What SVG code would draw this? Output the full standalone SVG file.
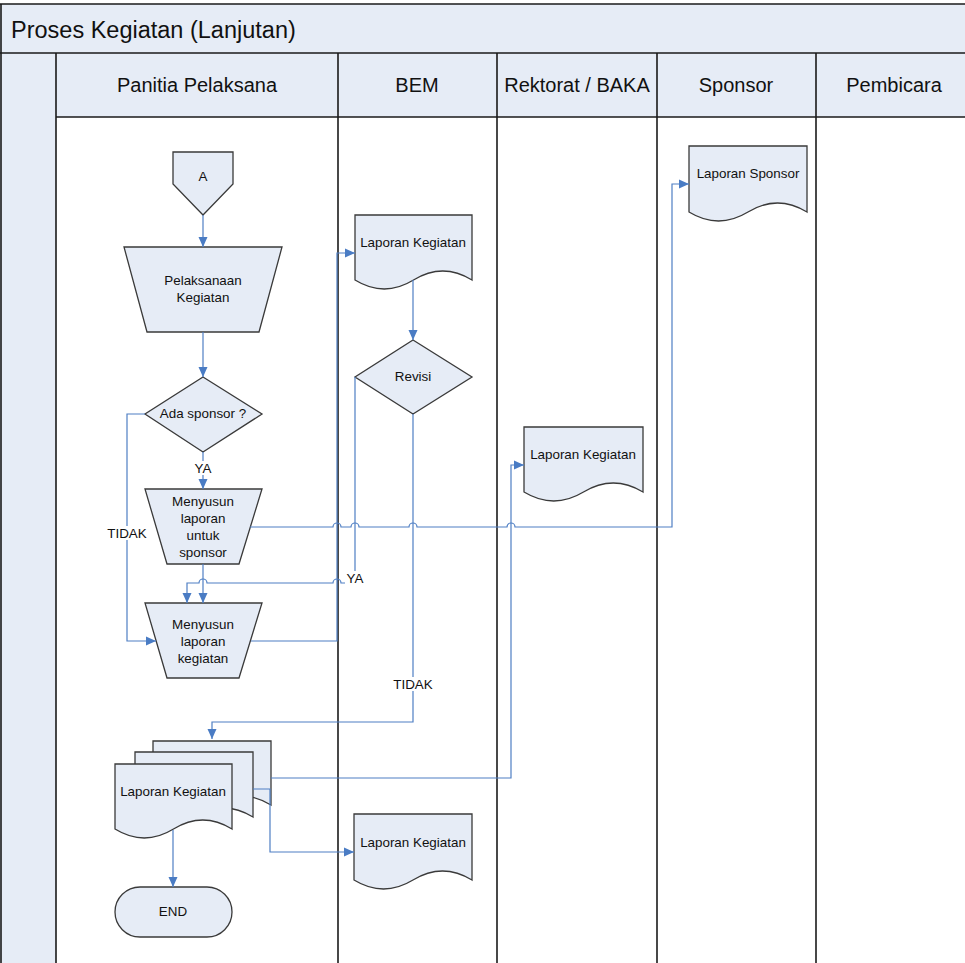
<svg xmlns="http://www.w3.org/2000/svg" width="965" height="963" viewBox="0 0 965 963">
  <style>
    .band { fill: #e6ecf6; stroke: none; }
    .lane { stroke: #1a1a1a; stroke-width: 1.6; fill: none; }
    .shape { fill: #e6ecf6; stroke: #3a3a3a; stroke-width: 1.3; }
    .conn { fill: none; stroke: #4f7fc4; stroke-width: 1.2; }
    .arrow { marker-end: url(#ah); }
    text { font-family: "Liberation Sans", Arial, sans-serif; fill: #111; }
    .title { font-size: 23.5px; }
    .head { font-size: 20px; text-anchor: middle; dominant-baseline: central; }
    .lbl { font-size: 13.4px; text-anchor: middle; dominant-baseline: central; }
    .bg { fill: #ffffff; stroke: none; }
  </style>
  <defs>
    <marker id="ah" markerWidth="10" markerHeight="10" refX="10" refY="5" orient="auto" markerUnits="userSpaceOnUse">
      <path d="M0,0.5 L10,5 L0,9.5 Z" fill="#4a7cc4"/>
    </marker>
  </defs>

  <!-- pool background -->
  <rect x="0" y="0" width="965" height="963" fill="#ffffff"/>
  <rect class="band" x="0" y="4" width="965" height="49"/>
  <rect class="band" x="0" y="53" width="56" height="910"/>
  <rect class="band" x="56" y="53" width="909" height="64"/>

  <!-- frame and lane separators -->
  <g id="lanes">
    <line class="lane" x1="0" y1="4" x2="965" y2="4"/>
    <line class="lane" x1="1" y1="4" x2="1" y2="963"/>
    <line class="lane" x1="0" y1="53" x2="965" y2="53"/>
    <line class="lane" x1="56" y1="117" x2="965" y2="117"/>
    <line class="lane" x1="56" y1="53" x2="56" y2="963"/>
    <line class="lane" x1="338" y1="53" x2="338" y2="963"/>
    <line class="lane" x1="497" y1="53" x2="497" y2="963"/>
    <line class="lane" x1="657" y1="53" x2="657" y2="963"/>
    <line class="lane" x1="816" y1="53" x2="816" y2="963"/>
  </g>

  <g id="headers">
    <text class="title" x="11" y="38">Proses Kegiatan (Lanjutan)</text>
    <text class="head" x="197" y="85">Panitia Pelaksana</text>
    <text class="head" x="417" y="85">BEM</text>
    <text class="head" x="577" y="85">Rektorat / BAKA</text>
    <text class="head" x="736" y="85">Sponsor</text>
    <text class="head" x="894" y="85">Pembicara</text>
  </g>

  <!-- nodes -->
  <g id="offpage-a">
    <path class="shape" d="M173,152 H233 V184 L203,215 L173,184 Z"/>
    <text class="lbl" x="203" y="176">A</text>
  </g>

  <g id="pelaksanaan">
    <path class="shape" d="M124,247 H282 L259,332 H147 Z"/>
    <text class="lbl" x="203" y="280">Pelaksanaan</text>
    <text class="lbl" x="203" y="297">Kegiatan</text>
  </g>

  <g id="ada-sponsor">
    <path class="shape" d="M203,377 L262,414 L203,452 L145,414 Z"/>
    <text class="lbl" x="203" y="413">Ada sponsor ?</text>
  </g>

  <g id="susun-sponsor">
    <path class="shape" d="M145,489 H262 L239,564 H167 Z"/>
    <text class="lbl" x="203" y="501">Menyusun</text>
    <text class="lbl" x="203" y="518">laporan</text>
    <text class="lbl" x="203" y="535">untuk</text>
    <text class="lbl" x="203" y="552">sponsor</text>
  </g>

  <g id="susun-kegiatan">
    <path class="shape" d="M145,603 H262 L239,678 H167 Z"/>
    <text class="lbl" x="203" y="624">Menyusun</text>
    <text class="lbl" x="203" y="641">laporan</text>
    <text class="lbl" x="203" y="658">kegiatan</text>
  </g>

  <g id="laporan-stack">
    <path class="shape" d="M153,741 H271 V805 Q241.5,787 212,805 Q182.5,823 153,805 Z"/>
    <path class="shape" d="M135,752 H253 V817 Q223.5,799 194,817 Q164.5,835 135,817 Z"/>
    <path class="shape" d="M115,764 H232 V829 Q202.75,811 173.5,829 Q144.25,847 115,829 Z"/>
    <text class="lbl" x="173" y="791">Laporan Kegiatan</text>
  </g>

  <g id="end">
    <rect class="shape" x="115" y="887" width="117" height="50" rx="25" ry="25"/>
    <text class="lbl" x="173" y="911">END</text>
  </g>

  <g id="laporan-bem">
    <path class="shape" d="M355,215 H472 V280 Q442.75,262 413.5,280 Q384.25,298 355,280 Z"/>
    <text class="lbl" x="413" y="242">Laporan Kegiatan</text>
  </g>

  <g id="revisi">
    <path class="shape" d="M413,340 L472,377 L413,414 L355,377 Z"/>
    <text class="lbl" x="413" y="376">Revisi</text>
  </g>

  <g id="laporan-bem-2">
    <path class="shape" d="M354,814 H472 V880 Q442.5,862 413,880 Q383.5,898 354,880 Z"/>
    <text class="lbl" x="413" y="842">Laporan Kegiatan</text>
  </g>

  <g id="laporan-rektorat">
    <path class="shape" d="M524,427 H643 V492 Q613.25,474 583.5,492 Q553.75,510 524,492 Z"/>
    <text class="lbl" x="583" y="454">Laporan Kegiatan</text>
  </g>

  <g id="laporan-sponsor">
    <path class="shape" d="M689,146 H807 V212 Q777.5,194 748,212 Q718.5,230 689,212 Z"/>
    <text class="lbl" x="748" y="173">Laporan Sponsor</text>
  </g>

  <!-- connectors (horizontal runs hop over crossing vertical runs) -->
  <g id="connectors">
    <path class="conn arrow" d="M203,215 V247"/>
    <path class="conn arrow" d="M203,332 V377"/>
    <path class="conn arrow" d="M203,452 V489"/>
    <path class="conn arrow" d="M145,414 H127 V641 H156"/>
    <path class="conn arrow" d="M203,564 V603"/>
    <path class="conn arrow" d="M251,641 H337 V253 H355"/>
    <path class="conn arrow" d="M413,280 V340"/>
    <path class="conn arrow" d="M355,377 V583 H341 A4,4 0 0 0 333,583 H207 A4,4 0 0 0 199,583 H187 V603"/>
    <path class="conn arrow" d="M413,414 V722 H212 V739"/>
    <path class="conn arrow" d="M250,527 H333 A4,4 0 0 1 341,527 H351 A4,4 0 0 1 359,527 H409 A4,4 0 0 1 417,527 H507 A4,4 0 0 1 515,527 H672 V184 H689"/>
    <path class="conn arrow" d="M271,778 H511 V465 H524"/>
    <path class="conn arrow" d="M253,789 H270 V852 H354"/>
    <path class="conn arrow" d="M173,830 V887"/>
  </g>

  <!-- connector labels -->
  <g id="labels">
    <rect class="bg" x="193" y="461" width="20" height="14"/>
    <text class="lbl" x="203" y="468">YA</text>
    <rect class="bg" x="106" y="526" width="42" height="14"/>
    <text class="lbl" x="127" y="533">TIDAK</text>
    <rect class="bg" x="345" y="571" width="20" height="14"/>
    <text class="lbl" x="355" y="578">YA</text>
    <rect class="bg" x="392" y="677" width="42" height="14"/>
    <text class="lbl" x="413" y="684">TIDAK</text>
  </g>
</svg>
